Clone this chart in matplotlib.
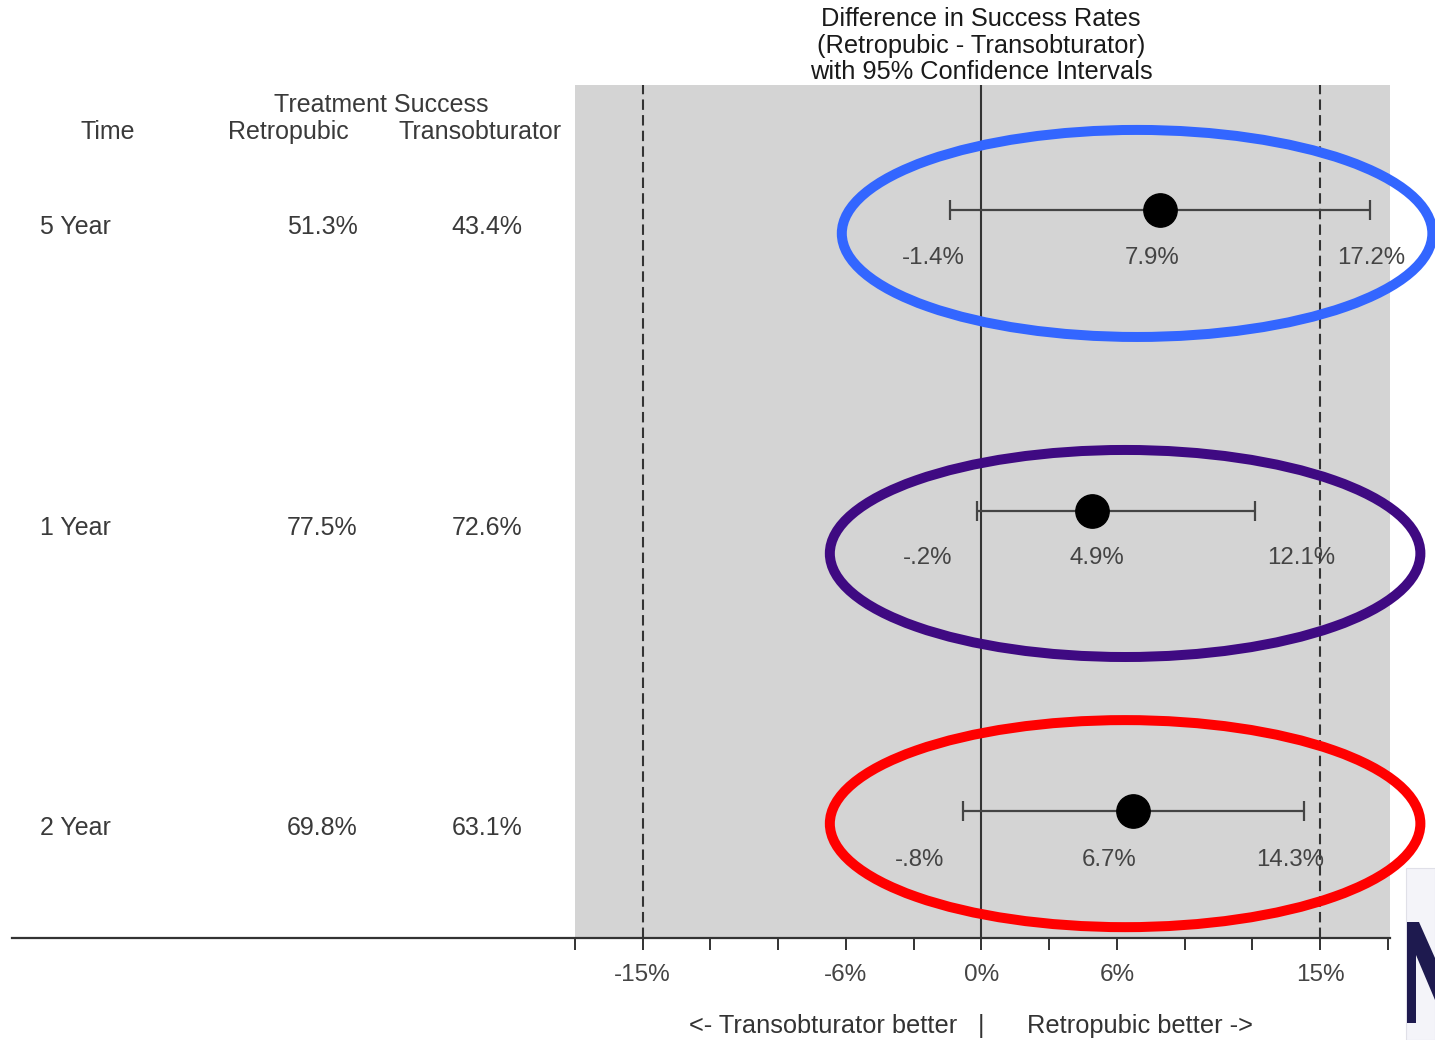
import matplotlib
matplotlib.use('Agg')
import matplotlib.pyplot as plt
import numpy as np
from matplotlib.patches import Ellipse, Rectangle, Polygon
from matplotlib.lines import Line2D

plt.rcParams['font.family'] = ['Liberation Sans', 'DejaVu Sans']

# ---------------- data ----------------
times = ['5 Year', '1 Year', '2 Year']
retropubic = ['51.3%', '77.5%', '69.8%']
transobturator = ['43.4%', '72.6%', '63.1%']
diff = [7.9, 4.9, 6.7]
ci_low = [-1.4, -0.2, -0.8]
ci_high = [17.2, 12.1, 14.3]
diff_labels = ['7.9%', '4.9%', '6.7%']
low_labels = ['-1.4%', '-.2%', '-.8%']
high_labels = ['17.2%', '12.1%', '14.3%']
xtick_values = [-18, -15, -12, -9, -6, -3, 0, 3, 6, 9, 12, 15, 18]
xtick_text = ['', '-15%', '', '', '-6%', '', '0%', '', '6%', '', '', '15%', '']
ref_dashed = [-15, 15]
ref_solid = [0]
ellipse_colors = ['#3366ff', '#3f0a82', '#ff0000']

# ---------------- layout ----------------
W, H = 1435, 1040
fig = plt.figure(figsize=(W / 100, H / 100), dpi=100)
fig.patch.set_facecolor('white')

def fx(px):
    return px / W

def fy(py):
    return 1 - py / H

ax = fig.add_axes([fx(575), fy(938), 815 / W, 853 / H])
ax.set_facecolor('#d4d4d4')
ax.set_xlim(-17.97, 18.09)
ax.set_ylim(2.4226, -0.416)
for s in ax.spines.values():
    s.set_visible(False)
ax.set_yticks([])
ax.set_xticks(xtick_values)
ax.set_xticklabels(xtick_text)
ax.tick_params(axis='x', length=8.6, width=1.4, color='#333333', pad=10,
               labelsize=17.5, labelcolor='#444444', direction='out')

# reference lines
for v in ref_dashed:
    ax.axvline(v, color='#333333', lw=1.5, ls=(0, (5, 2.5)), zorder=2)
for v in ref_solid:
    ax.axvline(v, color='#333333', lw=1.5, zorder=2)

# axis baseline spanning the figure
fig.add_artist(Line2D([fx(12), fx(1390)], [fy(938), fy(938)], color='#333333',
                      lw=1.6, transform=fig.transFigure))

rows = np.arange(len(times))
d = np.array(diff)
lo = np.array(ci_low)
hi = np.array(ci_high)
ax.errorbar(d, rows, xerr=[d - lo, hi - d], fmt='o', color='black', ms=24,
            ecolor='#444444', elinewidth=1.6, capsize=7.5, capthick=1.6, zorder=4)

# value labels under each interval
low_dx = [-17, -49, -44]
mid_dx = [-8, 5, -24]
high_dx = [1, 46, -14]
lab_dy = [-48, -47, -49]
for i in rows:
    for val, txt, dx in ((lo[i], low_labels[i], low_dx[i]),
                         (d[i], diff_labels[i], mid_dx[i]),
                         (hi[i], high_labels[i], high_dx[i])):
        ax.annotate(txt, xy=(val, i), xytext=(dx, lab_dy[i]), textcoords='offset pixels',
                    ha='center', va='center', fontsize=17.3, color='#444444',
                    annotation_clip=False, zorder=5)

# highlight ellipses
ell_cx = [6.89, 6.36, 6.36]
ell_cy = [0.078, 1.143, 2.042]
for i in rows:
    ax.add_patch(Ellipse((ell_cx[i], ell_cy[i]), 26.15, 0.689, fill=False,
                         ec=ellipse_colors[i], lw=7.2, clip_on=False, zorder=6))

# left-hand table
txt_kw = dict(fontsize=18, color='#3a3a3a', va='center')
for i in rows:
    ax.annotate(times[i], xy=(fx(40), i), xycoords=('figure fraction', 'data'),
                xytext=(0, -17), textcoords='offset pixels', ha='left',
                annotation_clip=False, **txt_kw)
    ax.annotate(retropubic[i], xy=(fx(322), i), xycoords=('figure fraction', 'data'),
                xytext=(0, -17), textcoords='offset pixels', ha='center',
                annotation_clip=False, **txt_kw)
    ax.annotate(transobturator[i], xy=(fx(487), i), xycoords=('figure fraction', 'data'),
                xytext=(0, -17), textcoords='offset pixels', ha='center',
                annotation_clip=False, **txt_kw)

fig.text(fx(108), fy(132), 'Time', ha='center', **txt_kw)
fig.text(fx(381), fy(105), 'Treatment Success', ha='center', **txt_kw)
fig.text(fx(288), fy(132), 'Retropubic', ha='center', **txt_kw)
fig.text(fx(480), fy(132), 'Transobturator', ha='center', **txt_kw)

# title
title_kw = dict(fontsize=18.3, color='#1a1a1a', ha='center', va='center')
fig.text(fx(981), fy(19), 'Difference in Success Rates', **title_kw)
fig.text(fx(981), fy(46), '(Retropubic - Transobturator)', **title_kw)
fig.text(fx(981), fy(72), 'with 95% Confidence Intervals', **title_kw)

# bottom direction labels
bot_kw = dict(fontsize=18.3, color='#333333', va='center')
fig.text(fx(957), fy(1026), '<- Transobturator better', ha='right', **bot_kw)
fig.text(fx(981), fy(1026), '|', ha='center', **bot_kw)
fig.text(fx(1027), fy(1026), 'Retropubic better ->', ha='left', **bot_kw)

# partial logo at bottom right
fig.add_artist(Rectangle((fx(1406), 0), (W - 1406) / W, (H - 868) / H,
                         transform=fig.transFigure, fc='#f4f4f9', ec='#e0e0e8',
                         lw=0.8, zorder=-1))
logo_px = [(1407, 1023), (1407, 922), (1419, 922), (1435, 958), (1435, 1000),
           (1416, 955), (1416, 1023)]
fig.add_artist(Polygon([(fx(x), fy(y)) for x, y in logo_px], closed=True,
                       transform=fig.transFigure, fc='#1e1a4f', ec='none', zorder=-0.5))

fig.savefig('out.png', dpi=100, facecolor='white')
